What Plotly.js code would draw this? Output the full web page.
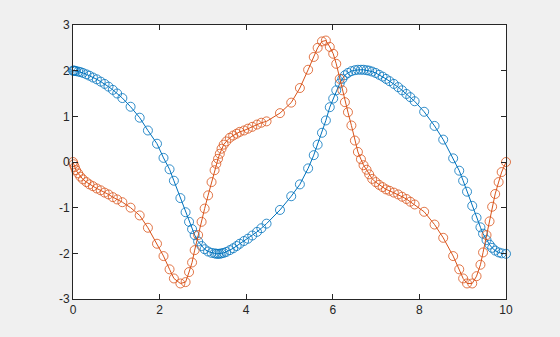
<!DOCTYPE html>
<html><head><meta charset="utf-8">
<script src="https://cdn.plot.ly/plotly-3.0.1.min.js"></script>
<style>html,body{margin:0;padding:0;background:#f0f0f0;}#chart{width:560px;height:337px;}</style>
</head><body><div id="chart"></div>
<script>
var t = [0, 0.015, 0.04, 0.07, 0.12, 0.17, 0.23, 0.31, 0.38, 0.46, 0.55, 0.64, 0.73, 0.82, 0.92, 1.02, 1.14, 1.33, 1.54,
  1.73, 1.94, 2.09, 2.23, 2.33, 2.48, 2.60, 2.68, 2.75, 2.81, 2.89, 2.97, 3.04, 3.12, 3.20, 3.27,
  3.31, 3.35, 3.39, 3.43, 3.48, 3.54, 3.62, 3.70, 3.78, 3.85, 3.95, 4.04, 4.14, 4.25, 4.35, 4.47, 4.78,
  5.04, 5.24, 5.43, 5.56, 5.65, 5.75, 5.84, 5.93, 6.01, 6.08, 6.16, 6.22, 6.28, 6.35, 6.43, 6.51, 6.58, 6.65, 6.71, 6.78, 6.84,
  6.91, 6.99, 7.07, 7.15, 7.23, 7.31, 7.41, 7.51, 7.60, 7.70, 7.79, 7.89, 8.11, 8.35, 8.55,
  8.78, 8.92, 9.01, 9.10, 9.22, 9.32, 9.41, 9.47, 9.55, 9.62, 9.68, 9.75, 9.83, 9.90, 10.0];
var y1 = [2.00, 2.00, 2.00, 1.99, 1.98, 1.97, 1.95, 1.92, 1.89, 1.85, 1.81, 1.76, 1.71, 1.65, 1.58, 1.50, 1.40, 1.21, 0.97,
  0.69, 0.40, 0.09, -0.16, -0.41, -0.79, -1.10, -1.31, -1.47, -1.60, -1.74, -1.84, -1.91, -1.96, -1.99, -2.00,
  -2.01, -2.01, -2.01, -2.00, -1.99, -1.97, -1.93, -1.89, -1.84, -1.79, -1.73, -1.68, -1.61, -1.53, -1.45, -1.35, -1.05,
  -0.75, -0.49, -0.14, 0.15, 0.38, 0.64, 0.91, 1.20, 1.39, 1.57, 1.72, 1.82, 1.90, 1.95, 1.99, 2.01, 2.02, 2.02, 2.02, 2.01, 2.00,
  1.98, 1.95, 1.91, 1.87, 1.82, 1.77, 1.71, 1.64, 1.57, 1.49, 1.42, 1.33, 1.10, 0.79, 0.49,
  0.08, -0.19, -0.41, -0.65, -0.96, -1.22, -1.43, -1.57, -1.71, -1.81, -1.88, -1.94, -1.98, -2.00, -2.01];
var y2 = [0, -0.05, -0.11, -0.18, -0.25, -0.32, -0.38, -0.44, -0.49, -0.53, -0.58, -0.62, -0.67, -0.71, -0.77, -0.82, -0.88, -1.00, -1.17,
  -1.44, -1.79, -2.06, -2.35, -2.55, -2.66, -2.63, -2.41, -2.20, -1.93, -1.60, -1.31, -1.02, -0.73, -0.44, -0.18,
  -0.04, 0.07, 0.18, 0.29, 0.38, 0.45, 0.53, 0.58, 0.62, 0.66, 0.69, 0.73, 0.77, 0.82, 0.86, 0.89, 1.07,
  1.30, 1.62, 2.02, 2.30, 2.50, 2.64, 2.66, 2.52, 2.37, 2.15, 1.82, 1.57, 1.31, 1.09, 0.80, 0.47, 0.22, 0.06, -0.07, -0.17, -0.27,
  -0.37, -0.44, -0.50, -0.55, -0.60, -0.63, -0.67, -0.71, -0.76, -0.81, -0.87, -0.93, -1.09, -1.37, -1.66,
  -2.06, -2.35, -2.55, -2.66, -2.66, -2.50, -2.25, -1.98, -1.60, -1.30, -0.98, -0.70, -0.44, -0.22, 0.0];
var xTicks = [0, 2, 4, 6, 8, 10];
var xTickText = ['0', '2', '4', '6', '8', '10'];
var yTicks = [-3, -2, -1, 0, 1, 2, 3];
var yTickText = ['-3', '-2', '-1', '0', '1', '2', '3'];

function series(y, color) {
  return {x: t, y: y, type: 'scatter', mode: 'lines+markers',
    line: {color: color, width: 1},
    marker: {symbol: 'circle-open', size: 9, color: color, line: {width: 0.8, color: color}},
    hoverinfo: 'skip', showlegend: false, cliponaxis: false};
}
var axisCommon = {showgrid: false, zeroline: false, showline: true, linecolor: '#262626', linewidth: 1,
  mirror: 'ticks', ticks: 'inside', ticklen: 5, tickcolor: '#262626', tickwidth: 1,
  tickfont: {family: 'Liberation Sans, Arial, sans-serif', size: 12, color: '#262626'}};
var layout = {
  width: 560, height: 337,
  paper_bgcolor: '#f0f0f0', plot_bgcolor: '#ffffff',
  margin: {l: 73, r: 54, t: 25, b: 38},
  xaxis: Object.assign({range: [0, 10], tickmode: 'array', tickvals: xTicks, ticktext: xTickText}, axisCommon),
  yaxis: Object.assign({range: [-3, 3], tickmode: 'array', tickvals: yTicks, ticktext: yTickText}, axisCommon)
};
Plotly.newPlot('chart', [series(y1, '#0072BD'), series(y2, '#D95319')], layout, {staticPlot: true});
</script></body></html>
